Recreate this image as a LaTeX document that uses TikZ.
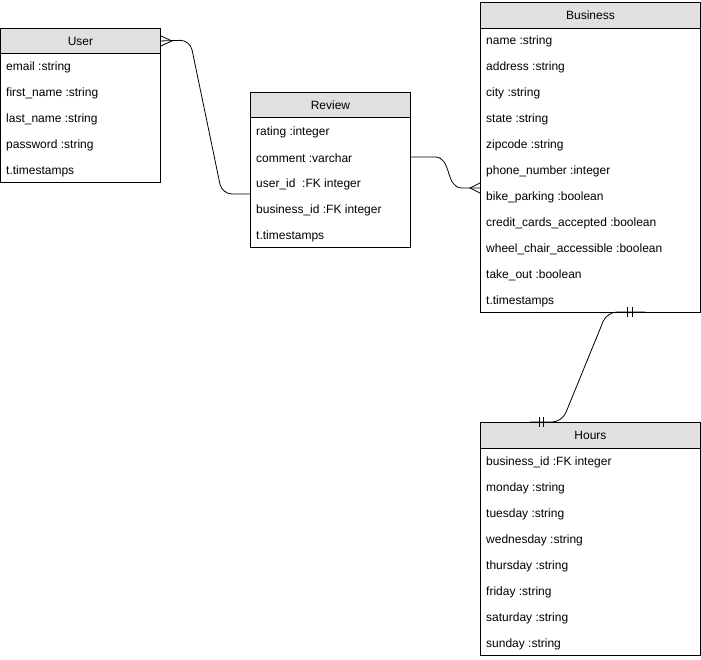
\documentclass[tikz,border=0pt]{standalone}
\usepackage{fontspec}
\setmainfont{Liberation Sans}
\begin{document}
\begin{tikzpicture}[x=1pt,y=-1pt,
  hdr/.style={draw=black,line width=0.9pt,fill=hdrgray,anchor=north west,inner sep=0pt,font=\fontsize{12}{14}\selectfont},
  tbody/.style={draw=black,line width=0.9pt,fill=white,anchor=north west,inner sep=0pt},
  field/.style={anchor=west,inner sep=0pt,font=\fontsize{12}{14}\selectfont},
  conn/.style={draw=black,line width=0.8pt},
  ermark/.style={draw=black,line width=0.8pt}]
\definecolor{hdrgray}{HTML}{E0E0E0}
\useasboundingbox (0,0) rectangle (701,659);
% User
\node[tbody,minimum width=160pt,minimum height=129pt] (userbody) at (0,53) {};
\node[hdr,minimum width=160pt,minimum height=25pt] (user) at (0,28) {User};
\foreach \t [count=\i] in {email :string,first\_name :string,last\_name :string,password :string,t.timestamps}
  \node[field] (user-\i) at (6,41+26*\i) {\t};
% Review
\node[tbody,minimum width=160pt,minimum height=130pt] (reviewbody) at (250,117) {};
\node[hdr,minimum width=160pt,minimum height=25pt] (review) at (250,92) {Review};
\foreach \t [count=\i] in {rating :integer,comment :varchar,user\_id\ \ :FK integer,business\_id :FK integer,t.timestamps}
  \node[field] (review-\i) at (256,106+26*\i) {\t};
% Business
\node[tbody,minimum width=220pt,minimum height=284pt] (businessbody) at (480,28) {};
\node[hdr,minimum width=220pt,minimum height=26pt] (business) at (480,2) {Business};
\foreach \t [count=\i] in {name :string,address :string,city :string,state :string,zipcode :string,phone\_number :integer,bike\_parking :boolean,credit\_cards\_accepted :boolean,wheel\_chair\_accessible :boolean,take\_out :boolean,t.timestamps}
  \node[field] (business-\i) at (486,15+26*\i) {\t};
% Hours
\node[tbody,minimum width=220pt,minimum height=207pt] (hoursbody) at (480,448) {};
\node[hdr,minimum width=220pt,minimum height=26pt] (hours) at (480,422) {Hours};
\foreach \t [count=\i] in {business\_id :FK integer,monday :string,tuesday :string,wednesday :string,thursday :string,friday :string,saturday :string,sunday :string}
  \node[field] (hours-\i) at (486,436+26*\i) {\t};
% connector endpoints
\coordinate (ua) at (user.east);
\coordinate (ra) at (reviewbody.west |- 0,194);
\coordinate (rb) at (reviewbody.east |- 0,157);
\coordinate (ba) at (businessbody.west |- 0,188);
\coordinate (bh) at (645,312);
\coordinate (hb) at (530,422);
% User -- Review
\draw[conn,rounded corners=10pt] (ua) -- (190,40) -- (222,194) -- (ra);
\draw[ermark] ([yshift=-5pt]ua) -- ([xshift=11pt]ua) -- ([yshift=5pt]ua);
% Review -- Business
\draw[conn] (rb) -- (435,157) .. controls (452,157) and (445,188) .. (462,188) -- (ba);
\draw[ermark] ([yshift=-5pt]ba) -- ([xshift=-10pt]ba) -- ([yshift=5pt]ba);
% Business -- Hours
\draw[conn,rounded corners=10pt] (bh) -- (607,312) -- (562,422) -- (hb);
\draw[ermark] (627,307) -- (627,317) (632,307) -- (632,317);
\draw[ermark] (539,417) -- (539,427) (543,417) -- (543,427);
\end{tikzpicture}
\end{document}
